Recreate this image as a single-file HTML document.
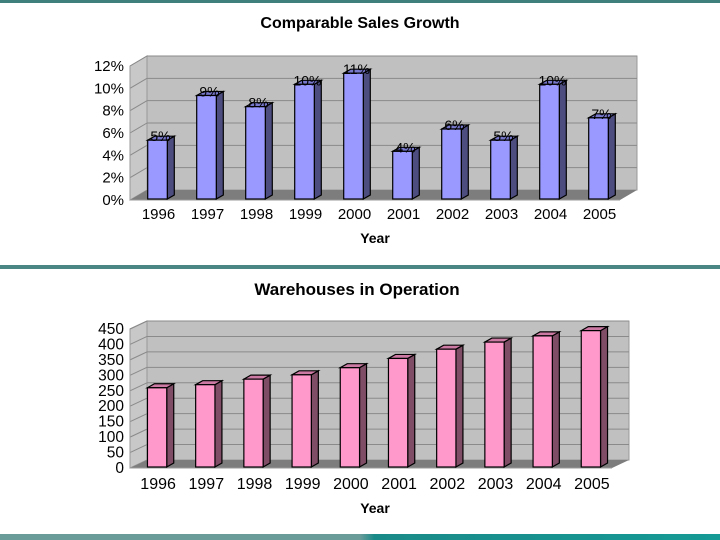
<!DOCTYPE html>
<html><head><meta charset="utf-8"><style>
html,body{margin:0;padding:0;background:#fff;width:720px;height:540px;overflow:hidden}
svg{display:block;font-family:"Liberation Sans",Arial,sans-serif}
</style></head><body>
<svg id="s" width="720" height="540">
<defs><linearGradient id="bg" x1="0" x2="1"><stop offset="0" stop-color="#6a9c9a"/><stop offset="0.5" stop-color="#6a9c9a"/><stop offset="0.52" stop-color="#1a8a88"/><stop offset="1" stop-color="#159a96"/></linearGradient></defs>
<rect x="0" y="0" width="720" height="3" fill="#3f7f7c"/>
<rect x="0" y="265" width="720" height="4" fill="#4a8784"/>
<rect x="0" y="534" width="720" height="6" fill="url(#bg)"/>
<text x="360" y="28" text-anchor="middle" font-size="16" font-weight="bold">Comparable Sales Growth</text>
<text x="357" y="295" text-anchor="middle" font-size="17" font-weight="bold">Warehouses in Operation</text>
<g id="c1"></g>
<g id="c2"></g>
</svg>
<script>
const years=["1996","1997","1998","1999","2000","2001","2002","2003","2004","2005"];
const salesValues=[5,9,8,10,11,4,6,5,10,7];
const salesTicks=[0,2,4,6,8,10,12];
const whValues=[250,260,278,292,315,345,375,398,418,435];
const whTicks=[0,50,100,150,200,250,300,350,400,450];
const NS="http://www.w3.org/2000/svg";
function mk(p,t,a){const e=document.createElementNS(NS,t);for(const k in a)e.setAttribute(k,a[k]);p.appendChild(e);return e;}
function chart(g,cfg){
  const {x0,x1,y0,yTop,max,dx,dy,vals,ticks,fmt,front,side,top,label,yearY,xlabY,tickFS,yearFS}=cfg;
  const ys=v=>y0-(v/max)*(y0-yTop);
  const n=years.length,cw=(x1-x0)/n;
  let w=mk(g,'polygon',{points:`${x0+dx},${ys(max)+dy} ${x1+dx},${ys(max)+dy} ${x1+dx},${y0+dy} ${x0+dx},${y0+dy}`,fill:'#c0c0c0',stroke:'#999'});
  
  let sw=mk(g,'polygon',{points:`${x0},${ys(max)} ${x0+dx},${ys(max)+dy} ${x0+dx},${y0+dy} ${x0},${y0}`,fill:'#c8c8c8',stroke:'#999'});
  
  ticks.forEach(t=>{
    const y=ys(t);
    if(t>0){const l=mk(g,'line',{x1:x0+dx,y1:y+dy,x2:x1+dx,y2:y+dy,stroke:'#8a8a8a','stroke-width':1});
    
    const d=mk(g,'line',{x1:x0,y1:y,x2:x0+dx,y2:y+dy,stroke:'#8a8a8a'});
    }
    const tx=mk(g,'text',{x:x0-6,y:y+5,'text-anchor':'end','font-size':tickFS});tx.textContent=fmt(t);
    
  });
  let fl=mk(g,'polygon',{points:`${x0},${y0} ${x1},${y0} ${x1+dx},${y0+dy} ${x0+dx},${y0+dy}`,fill:'#7d7d7d'});
  
  mk(g,'line',{x1:x0,y1:y0,x2:x1,y2:y0,stroke:'#999'});
  mk(g,'line',{x1:x0,y1:y0,x2:x0,y2:ys(max),stroke:'#999'});
  const bw=cw*0.4,bd=7,bu=4;
  vals.forEach((v,i)=>{
    const bx=x0+cw*i+cw/2-bw/2+3,by=ys(v)+dy/2+1,bb=y0-1;
    const gb=mk(g,'g',{});
    mk(gb,'polygon',{points:`${bx+bw},${by} ${bx+bw+bd},${by-bu} ${bx+bw+bd},${bb-bu} ${bx+bw},${bb}`,fill:side,stroke:'#000','stroke-width':1.2});
    mk(gb,'polygon',{points:`${bx},${by} ${bx+bd},${by-bu} ${bx+bw+bd},${by-bu} ${bx+bw},${by}`,fill:top,stroke:'#000','stroke-width':1.2});
    mk(gb,'rect',{x:bx,y:by,width:bw,height:bb-by,fill:front,stroke:'#000','stroke-width':1.2});
    if(label){const t=mk(g,'text',{x:bx+bw/2+3,y:by+1,'text-anchor':'middle','font-size':14});t.textContent=v+'%';
      }
    const xt=mk(g,'text',{x:x0+cw*i+cw/2+4,y:yearY,'text-anchor':'middle','font-size':yearFS});xt.textContent=years[i];
    
  });
  const xl=mk(g,'text',{x:375,y:xlabY,'text-anchor':'middle','font-size':14,'font-weight':'bold'});xl.textContent='Year';
  
}
chart(document.getElementById('c1'),{x0:130,x1:620,y0:200,yTop:66,max:12,dx:17,dy:-10,vals:salesValues,ticks:salesTicks,fmt:t=>t+'%',front:'#9999ff',side:'#4d4d80',top:'#7777cc',label:true,yearY:219,xlabY:243,tickFS:15,yearFS:15});
chart(document.getElementById('c2'),{x0:130,x1:612,y0:468,yTop:329,max:450,dx:17,dy:-8,vals:whValues,ticks:whTicks,fmt:t=>t,front:'#ff99cc',side:'#804d66',top:'#cc7aa3',label:false,yearY:489,xlabY:513,tickFS:15.5,yearFS:16});
</script>
</body></html>
